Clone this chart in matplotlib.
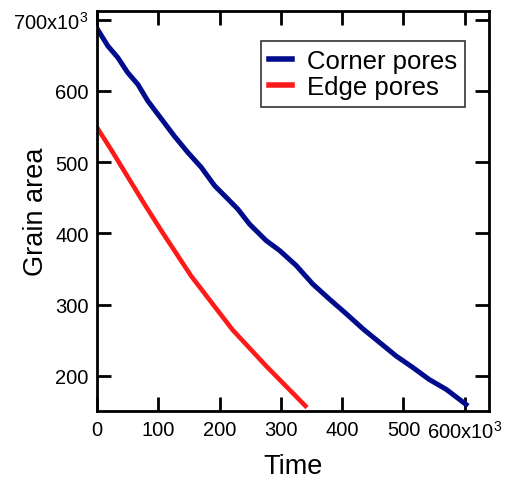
import matplotlib
matplotlib.use("Agg")
import matplotlib.pyplot as plt

plt.rcParams['font.family'] = ['Liberation Sans', 'DejaVu Sans']
plt.rcParams['mathtext.fontset'] = 'custom'
plt.rcParams['mathtext.rm'] = 'Liberation Sans'
plt.rcParams['mathtext.it'] = 'Liberation Sans'

# values (time and grain area, both in units of 1e3)
corner_time = [0, 18, 34, 50, 67, 83, 105, 126, 148, 170, 192, 214, 230,
               249, 276, 298, 325, 352, 379, 407, 434, 461, 488, 515, 542,
               570, 602]
corner_area = [688, 663, 647, 626, 609, 586, 561, 537, 514, 493, 467, 448, 434,
               413, 390, 376, 355, 329, 308, 287, 266, 247, 228, 212, 195,
               181, 160]

edge_time = [0, 23, 50, 77, 105, 154, 221, 276, 340]
edge_area = [549, 518, 480, 442, 404, 340, 265, 214, 158]

x_ticks = [0, 100, 200, 300, 400, 500, 600]
x_labels = ['0', '100', '200', '300', '400', '500', '600x10$^{3}$']
y_ticks = [200, 300, 400, 500, 600, 700]
y_labels = ['200', '300', '400', '500', '600', '700x10$^{3}$']


def main():
    fig = plt.figure(figsize=(5.07, 4.89), dpi=100)
    ax = fig.add_axes([0.191, 0.157, 0.773, 0.819])
    ax.plot(corner_time, corner_area, color='#000c8c', lw=3.6, label='Corner pores')
    ax.plot(edge_time, edge_area, color='#ff1a1a', lw=3.3, label='Edge pores')

    ax.set_xlim(0, 639)
    ax.set_ylim(150.5, 712.5)
    ax.set_xticks(x_ticks)
    ax.set_xticklabels(x_labels)
    ax.set_yticks(y_ticks)
    ax.set_yticklabels(y_labels)
    ax.tick_params(direction='in', length=10, width=2, labelsize=14.5,
                   top=True, right=True, pad=6)
    for sp in ax.spines.values():
        sp.set_linewidth(2)

    ax.set_xlabel('Time', fontsize=19.5, labelpad=8)
    ax.set_ylabel('Grain area', fontsize=19.5, va='center')
    # put the y label where the reference has it
    ax.yaxis.set_label_coords(-0.155, 0.5)

    leg = ax.legend(loc='upper right', bbox_to_anchor=(465 / 507, 1 - 42 / 489),
                    bbox_transform=fig.transFigure, fontsize=18.5, frameon=True,
                    fancybox=False, handlelength=0.9, handletextpad=0.6,
                    borderpad=0.3, labelspacing=0.1, borderaxespad=0)
    leg.get_frame().set_edgecolor('black')
    leg.get_frame().set_linewidth(1.2)
    for ln in leg.get_lines():
        ln.set_linewidth(4)

    fig.savefig('out.png', dpi=100)


if __name__ == '__main__':
    main()
